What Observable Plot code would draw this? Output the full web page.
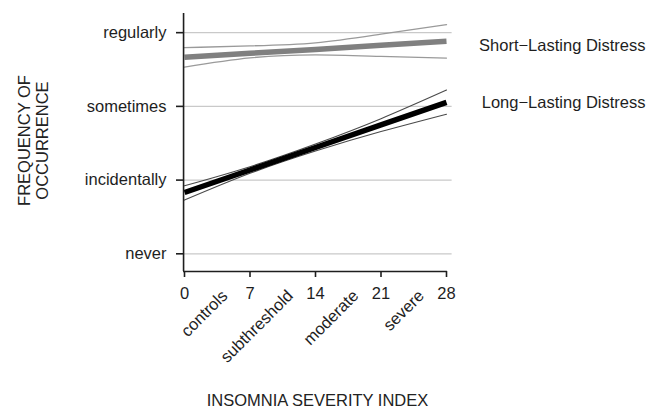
<!DOCTYPE html>
<html><head><meta charset="utf-8">
<script src="https://cdn.jsdelivr.net/npm/d3@7"></script>
<script src="https://cdn.jsdelivr.net/npm/@observablehq/plot@0.6"></script>
<style>body{margin:0;background:#fff}</style>
</head><body><div id="chart"></div>
<script>
// Insomnia Severity Index sample points
const isi = [0, 7, 14, 21, 28];
// Short-lasting distress: fitted line and confidence band
const shortFit   = [2.665, 2.720, 2.772, 2.828, 2.882];
const shortUpper = [2.796, 2.821, 2.862, 2.980, 3.109];
const shortLower = [2.533, 2.658, 2.699, 2.678, 2.655];
// Long-lasting distress: fitted line and confidence band
const longFit   = [0.832, 1.137, 1.442, 1.748, 2.053];
const longUpper = [0.923, 1.182, 1.489, 1.833, 2.221];
const longLower = [0.729, 1.092, 1.395, 1.658, 1.894];

const freqLevels = [0, 1, 2, 3];
const freqLabels = ["never", "incidentally", "sometimes", "regularly"];
const isiTicks = [0, 7, 14, 21, 28];
const severityPos = [3.5, 10.5, 17.5, 24.5];
const severityLabels = ["controls", "subthreshold", "moderate", "severe"];
const seriesNames = ["Short\u2212Lasting Distress", "Long\u2212Lasting Distress"];
const yTitle = "FREQUENCY OF\nOCCURRENCE";
const xTitle = "INSOMNIA SEVERITY INDEX";

const rows = vals => isi.map((x, i) => ({x, y: vals[i]}));
const font = "'Liberation Sans', Arial, Helvetica, sans-serif";
const ink = "#1e1e1e";
const fs = 16.5;

const chart = Plot.plot({
  width: 661, height: 414,
  marginLeft: 184, marginRight: 215, marginTop: 13, marginBottom: 143,
  x: {domain: [0, 28]},
  y: {domain: [-0.24, 3.26]},
  style: {fontFamily: font, fontSize: fs + "px", color: ink, background: "#fff"},
  marks: [
    Plot.ruleY(freqLevels, {x1: -0.1, x2: 28.6, stroke: "#c9c9c9", strokeWidth: 1.2}),
    // confidence bands
    Plot.line(rows(shortUpper), {x: "x", y: "y", curve: "natural", stroke: "#9a9a9a", strokeWidth: 1.3}),
    Plot.line(rows(shortLower), {x: "x", y: "y", curve: "natural", stroke: "#9a9a9a", strokeWidth: 1.3}),
    Plot.line(rows(longUpper), {x: "x", y: "y", curve: "natural", stroke: "#4a4a4a", strokeWidth: 1.1}),
    Plot.line(rows(longLower), {x: "x", y: "y", curve: "natural", stroke: "#4a4a4a", strokeWidth: 1.1}),
    // fitted lines
    Plot.line(rows(shortFit), {x: "x", y: "y", stroke: "#808080", strokeWidth: 5.5, strokeLinecap: "butt"}),
    Plot.line(rows(longFit), {x: "x", y: "y", stroke: "#000", strokeWidth: 5.5, strokeLinecap: "butt"}),
    // axis lines
    Plot.ruleX([-0.1], {y1: -0.24, y2: 3.26, stroke: ink, strokeWidth: 1.6}),
    Plot.ruleY([-0.24], {x1: -0.1, x2: 28.1, stroke: ink, strokeWidth: 1.6}),
    Plot.axisY({ticks: freqLevels, tickFormat: d => freqLabels[d], tickSize: 8, tickPadding: 10,
      label: null, fontSize: fs, strokeWidth: 1.6, stroke: ink, fill: ink}),
    Plot.axisX({ticks: isiTicks, tickSize: 6, tickPadding: 10, label: null, fontSize: fs,
      strokeWidth: 1.6, stroke: ink, fill: ink}),
    // severity category labels
    Plot.text(severityPos, {x: d => d, text: (d, i) => severityLabels[i], frameAnchor: "bottom",
      rotate: -45, textAnchor: "end", lineAnchor: "top", dx: 3, dy: 17, fontSize: fs, fill: ink}),
    // series labels
    Plot.text([seriesNames[0]], {x: () => 28, y: () => shortFit[shortFit.length - 1], dx: 199, dy: 4,
      textAnchor: "end", fontSize: fs, fill: ink}),
    Plot.text([seriesNames[1]], {x: () => 28, y: () => longFit[longFit.length - 1], dx: 199, dy: 0,
      textAnchor: "end", fontSize: fs, fill: ink}),
    // axis titles
    Plot.text([yTitle], {frameAnchor: "left", textAnchor: "middle", rotate: -90, dx: -151, dy: -2,
      lineHeight: 1.05, fontSize: fs, fill: "#222"}),
    Plot.text([xTitle], {frameAnchor: "bottom", textAnchor: "middle", dx: 2, dy: 134, fontSize: fs, fill: "#222"})
  ]
});
document.getElementById("chart").appendChild(chart);
</script>
</body></html>
